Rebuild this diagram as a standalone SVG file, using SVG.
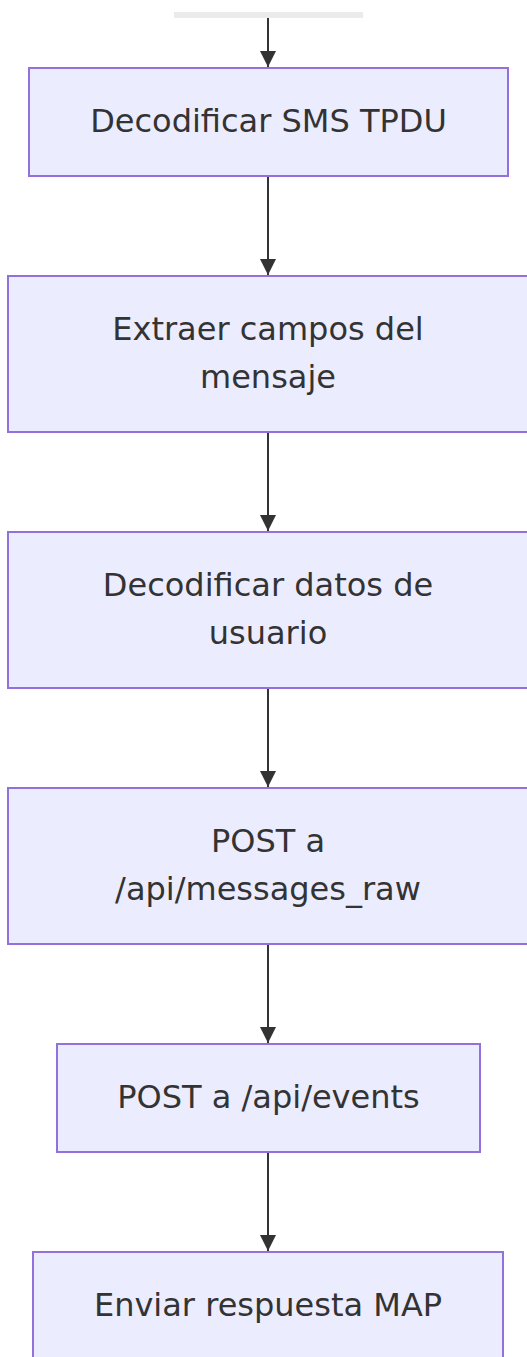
<svg xmlns="http://www.w3.org/2000/svg" width="527" height="1357" viewBox="0 0 527 1357">
<style>
.node rect{fill:#ECECFF;stroke:#9370DB;stroke-width:2}
.node text{font-family:"DejaVu Sans",sans-serif;font-size:32px;fill:#333333;text-anchor:middle}
.edge{stroke:#333333;stroke-width:2;fill:none}
</style>
<defs>
<marker id="arrow" markerUnits="userSpaceOnUse" markerWidth="18" markerHeight="16" refX="16" refY="8" orient="auto" viewBox="0 0 18 16">
<path d="M0,0 L16,8 L0,16 z" fill="#333333"/>
</marker>
</defs>
<rect x="174" y="12" width="189" height="6" fill="#EBEBEB"/>
<g id="connectors">
<line class="edge" x1="268" y1="18" x2="268" y2="67" marker-end="url(#arrow)"/>
<line class="edge" x1="268" y1="176" x2="268" y2="275" marker-end="url(#arrow)"/>
<line class="edge" x1="268" y1="432" x2="268" y2="531" marker-end="url(#arrow)"/>
<line class="edge" x1="268" y1="688" x2="268" y2="787" marker-end="url(#arrow)"/>
<line class="edge" x1="268" y1="944" x2="268" y2="1043" marker-end="url(#arrow)"/>
<line class="edge" x1="268" y1="1152" x2="268" y2="1251" marker-end="url(#arrow)"/>
</g>
<g id="n1" class="node">
<rect x="29" y="68" width="479" height="108"/>
<text x="268.5" y="132">Decodificar SMS TPDU</text>
</g>
<g id="n2" class="node">
<rect x="8" y="276" width="521" height="156"/>
<text x="268" y="340">Extraer campos del</text>
<text x="268" y="388">mensaje</text>
</g>
<g id="n3" class="node">
<rect x="8" y="532" width="521" height="156"/>
<text x="268" y="596">Decodificar datos de</text>
<text x="268" y="644">usuario</text>
</g>
<g id="n4" class="node">
<rect x="8" y="788" width="521" height="156"/>
<text x="268" y="852">POST a</text>
<text x="268" y="900">/api/messages_raw</text>
</g>
<g id="n5" class="node">
<rect x="57" y="1044" width="423" height="108"/>
<text x="268.5" y="1108">POST a /api/events</text>
</g>
<g id="n6" class="node">
<rect x="33" y="1252" width="470" height="108"/>
<text x="268" y="1316">Enviar respuesta MAP</text>
</g>
</svg>
